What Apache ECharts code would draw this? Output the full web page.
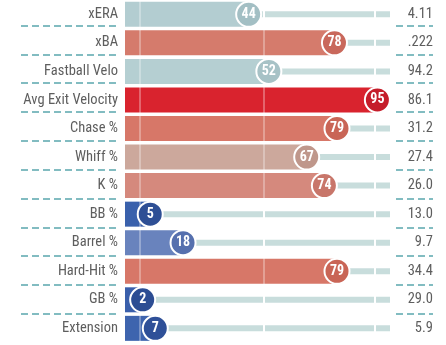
<!DOCTYPE html>
<html>
<head>
<meta charset="utf-8">
<script src="https://cdn.jsdelivr.net/npm/echarts@6/dist/echarts.min.js"></script>
<style>html,body{margin:0;padding:0;background:#fff}#c{width:446px;height:345px}</style>
</head>
<body>
<div id="c"></div>
<script>
const categories = ['xERA','xBA','Fastball Velo','Avg Exit Velocity','Chase %','Whiff %','K %','BB %','Barrel %','Hard-Hit %','GB %','Extension'];
const percentiles = [44,78,52,95,79,67,74,5,18,79,2,7];
const statValues = ['4.11','.222','94.2','86.1','31.2','27.4','26.0','13.0','9.7','34.4','29.0','5.9'];
const refLines = [1, 50, 94];

// styles
const barColors = ['#b3cdd1','#d57b6c','#b5cfd2','#d9232e','#d77768','#cca89c','#d5897d','#3a61ac','#6983bd','#d77768','#3a5fab','#3e64ae'];
const circleColors = ['#a3bfc4','#c9685b','#a7c2c6','#c51d2a','#c96556','#bf978b','#c8766a','#2e4f95','#5670ae','#c96556','#2c4d93','#2f5098'];

const FONT = "'Roboto Condensed','Liberation Sans Narrow','Roboto',sans-serif";
const TOP = -3.33, BAND = 28.83, N = categories.length;
const BAR_START = -5, BAR_H = 25;
const sepAxis = { type:'value', min:0, max:N-2, interval:1, inverse:true,
  axisLabel:{show:false}, axisLine:{show:false}, axisTick:{show:false},
  splitLine:{show:true, lineStyle:{color:'#5aa7ad', width:1.5, type:[7,4]}} };
const hiddenX = { type:'value', show:false, min:0, max:1 };

const chart = echarts.init(document.getElementById('c'));
chart.setOption({
  animation:false,
  backgroundColor:'#fff',
  grid:[
    {left:125, width:265, top:TOP, height:BAND*N},
    {left:21, width:97, top:TOP+BAND, height:BAND*(N-2)},
    {left:396, width:37, top:TOP+BAND, height:BAND*(N-2)}
  ],
  xAxis:[
    {type:'value', gridIndex:0, min:BAR_START, max:100, show:false},
    Object.assign({gridIndex:1}, hiddenX),
    Object.assign({gridIndex:2}, hiddenX)
  ],
  yAxis:[
    {type:'category', gridIndex:0, data:categories, inverse:true,
     axisLine:{show:false}, axisTick:{show:false}, splitLine:{show:false},
     axisLabel:{color:'#5e5e5e', fontSize:14.5, fontFamily:FONT, margin:7}},
    {type:'category', gridIndex:0, data:statValues, inverse:true, position:'right',
     axisLine:{show:false}, axisTick:{show:false}, splitLine:{show:false},
     axisLabel:{color:'#5e5e5e', fontSize:14.5, fontFamily:FONT, margin:43, align:'right'}},
    Object.assign({gridIndex:1}, sepAxis),
    Object.assign({gridIndex:2}, sepAxis)
  ],
  series:[
    {type:'bar', xAxisIndex:0, yAxisIndex:0, z:1, barWidth:6, silent:true,
     data:categories.map(()=>100), itemStyle:{color:'#c8dddc'},
     markLine:{z:2, silent:true, symbol:'none', label:{show:false},
       lineStyle:{color:'#ffffff', width:2, type:'solid', opacity:1},
       data:refLines.map(v=>({xAxis:v}))}},
    {type:'custom', xAxisIndex:0, yAxisIndex:0, z:3, silent:true,
     data:percentiles.map((v,i)=>[v,i]), encode:{x:0, y:1},
     renderItem:function(params, api){
       const i = api.value(1), v = api.value(0);
       const s = api.coord([BAR_START, i]), e = api.coord([v, i]);
       return {type:'rect', shape:{x:s[0], y:s[1]-BAR_H/2, width:e[0]-s[0], height:BAR_H},
               style:{fill:barColors[i]}};
     },
     markLine:{z:4, silent:true, symbol:'none', label:{show:false},
       lineStyle:{color:'#ffffff', width:2, type:'solid', opacity:0.3},
       data:refLines.map(v=>({xAxis:v}))}},
    {type:'scatter', xAxisIndex:0, yAxisIndex:0, z:6, silent:true,
     symbolSize:25,
     data:percentiles.map((v,i)=>({value:[v,i], itemStyle:{color:circleColors[i]}})),
     itemStyle:{borderColor:'#ffffff', borderWidth:2, opacity:1},
     label:{show:true, position:'inside', formatter:p=>p.value[0], color:'#fff',
            fontWeight:'bold', fontSize:14, fontFamily:FONT}}
  ]
});
</script>
</body>
</html>
